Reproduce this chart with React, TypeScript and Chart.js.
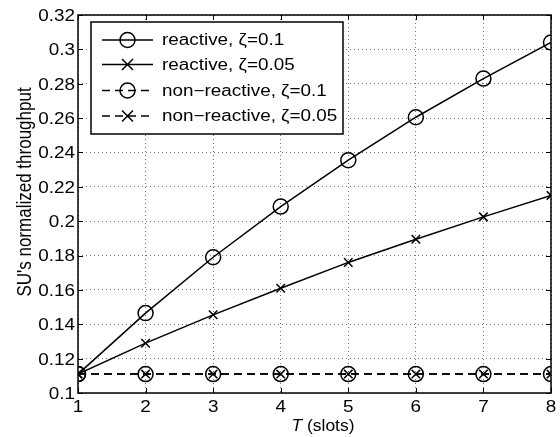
import React, { useEffect, useRef } from "react";
import { Chart, registerables } from "chart.js";

Chart.register(...registerables);

const T = [1, 2, 3, 4, 5, 6, 7, 8];
const reactive01 = [0.111, 0.1465, 0.179, 0.2085, 0.2355, 0.2605, 0.283, 0.304];
const reactive005 = [0.111, 0.129, 0.1455, 0.161, 0.176, 0.1895, 0.2025, 0.215];
const nonReactive01 = [0.111, 0.111, 0.111, 0.111, 0.111, 0.111, 0.111, 0.111];
const nonReactive005 = [0.111, 0.111, 0.111, 0.111, 0.111, 0.111, 0.111, 0.111];
const seriesLabels = [
  "reactive, ζ=0.1",
  "reactive, ζ=0.05",
  "non−reactive, ζ=0.1",
  "non−reactive, ζ=0.05",
];
const yTitle = "SU's normalized throughput";
const xTitleItalic = "T";
const xTitleRest = " (slots)";

const FONT = "'Liberation Sans', Arial, Helvetica, sans-serif";
const SX = 1.18;

function drawText(
  ctx: CanvasRenderingContext2D,
  text: string,
  x: number,
  y: number,
  size: number,
  sx: number,
  align: CanvasTextAlign,
  italic = false
) {
  ctx.save();
  ctx.translate(x, y);
  ctx.scale(sx, 1);
  ctx.font = `${italic ? "italic " : ""}${size}px ${FONT}`;
  ctx.fillStyle = "#000";
  ctx.textAlign = align;
  ctx.textBaseline = "middle";
  ctx.fillText(text, 0, 0);
  ctx.restore();
}

function drawMarker(ctx: CanvasRenderingContext2D, style: string, x: number, y: number) {
  ctx.save();
  ctx.setLineDash([]);
  ctx.lineWidth = 1.5;
  ctx.strokeStyle = "#000";
  ctx.beginPath();
  if (style === "circle") {
    ctx.arc(x, y, 7.5, 0, Math.PI * 2);
  } else {
    const r = 5.5;
    ctx.moveTo(x - r, y - r);
    ctx.lineTo(x + r, y + r);
    ctx.moveTo(x - r, y + r);
    ctx.lineTo(x + r, y - r);
  }
  ctx.stroke();
  ctx.restore();
}

const fmt = (v: number) => String(parseFloat(Number(v).toFixed(2)));

const framePlugin = {
  id: "frame",
  afterDraw(chart: any) {
    const { ctx, chartArea } = chart;
    const { left, right, top, bottom } = chartArea;
    const xs = chart.scales.x;
    const ys = chart.scales.y;
    ctx.save();
    ctx.strokeStyle = "#000";
    ctx.lineWidth = 1.5;
    ctx.setLineDash([]);
    ctx.strokeRect(left, top, right - left, bottom - top);
    ctx.lineWidth = 1;
    const tl = 5;
    ctx.beginPath();
    xs.ticks.forEach((t: any) => {
      const px = Math.round(xs.getPixelForValue(t.value)) + 0.5;
      ctx.moveTo(px, bottom);
      ctx.lineTo(px, bottom - tl);
      ctx.moveTo(px, top);
      ctx.lineTo(px, top + tl);
    });
    ys.ticks.forEach((t: any) => {
      const py = Math.round(ys.getPixelForValue(t.value)) + 0.5;
      ctx.moveTo(left, py);
      ctx.lineTo(left + tl, py);
      ctx.moveTo(right, py);
      ctx.lineTo(right - tl, py);
    });
    ctx.stroke();

    // tick labels
    xs.ticks.forEach((t: any) => {
      drawText(ctx, fmt(t.value), xs.getPixelForValue(t.value), 408, 16, SX, "center");
    });
    ys.ticks.forEach((t: any) => {
      drawText(ctx, fmt(t.value), 75, ys.getPixelForValue(t.value) + 1.5, 16, SX, "right");
    });

    // legend
    const lx = 91, ly = 22, lw = 252, lh = 112;
    ctx.fillStyle = "#fff";
    ctx.fillRect(lx, ly, lw, lh);
    ctx.lineWidth = 1.5;
    ctx.strokeStyle = "#000";
    ctx.strokeRect(lx, ly, lw, lh);
    const rows = [40, 64.5, 90.5, 116];
    chart.data.datasets.forEach((ds: any, i: number) => {
      const y = rows[i];
      ctx.save();
      ctx.lineWidth = 1.5;
      ctx.strokeStyle = "#000";
      ctx.setLineDash(ds.borderDash || []);
      ctx.beginPath();
      ctx.moveTo(102, y);
      ctx.lineTo(153, y);
      ctx.stroke();
      ctx.restore();
      drawMarker(ctx, ds.pointStyle === "circle" ? "circle" : "cross", 127.5, y);
      drawText(ctx, ds.label, 162, y + 1, 16, SX, "left");
    });

    // y title
    ctx.save();
    ctx.translate(25, 192);
    ctx.rotate(-Math.PI / 2);
    ctx.scale(1, SX);
    ctx.font = `17px ${FONT}`;
    ctx.fillStyle = "#000";
    ctx.textAlign = "center";
    ctx.textBaseline = "middle";
    ctx.fillText(yTitle, 0, 0);
    ctx.restore();

    // x title
    const xsx = 1.09;
    ctx.font = `italic 16px ${FONT}`;
    const w1 = ctx.measureText(xTitleItalic).width * xsx;
    ctx.font = `16px ${FONT}`;
    const w2 = ctx.measureText(xTitleRest).width * xsx;
    const sx0 = 323 - (w1 + w2) / 2;
    drawText(ctx, xTitleItalic, sx0, 427, 16, xsx, "left", true);
    drawText(ctx, xTitleRest, sx0 + w1, 427, 16, xsx, "left");
    ctx.restore();
  },
};

export default function App() {
  const ref = useRef<HTMLCanvasElement | null>(null);
  useEffect(() => {
    document.body.style.margin = "0";
    const canvas = ref.current!;
    const mk = (label: string, data: number[], style: string, dashed: boolean) => ({
      label,
      data: T.map((t, i) => ({ x: t, y: data[i] })),
      borderColor: "#000",
      backgroundColor: "rgba(0,0,0,0)",
      borderWidth: 1.5,
      borderDash: dashed ? [8, 5] : [],
      pointStyle: style,
      pointRadius: style === "circle" ? 7.5 : 6,
      pointBorderWidth: 1.5,
      pointBorderColor: "#000",
      pointBackgroundColor: "rgba(0,0,0,0)",
      tension: 0,
      fill: false,
    });
    const chart = new Chart(canvas, {
      type: "line",
      data: {
        datasets: [
          mk(seriesLabels[0], reactive01, "circle", false),
          mk(seriesLabels[1], reactive005, "crossRot", false),
          mk(seriesLabels[2], nonReactive01, "circle", true),
          mk(seriesLabels[3], nonReactive005, "crossRot", true),
        ],
      },
      options: {
        responsive: false,
        animation: false,
        events: [],
        layout: { padding: { left: 0, right: 7, top: 15, bottom: 0 } },
        plugins: { legend: { display: false }, tooltip: { enabled: false } },
        scales: {
          x: {
            type: "linear",
            min: 1,
            max: 8,
            ticks: { stepSize: 1, display: false },
            grid: { color: "rgba(0,0,0,0.55)", lineWidth: 1, drawTicks: false },
            border: { display: false, dash: [1, 3] },
            afterFit: (s: any) => {
              s.height = 44;
            },
          },
          y: {
            type: "linear",
            min: 0.1,
            max: 0.32,
            ticks: { stepSize: 0.02, display: false },
            grid: { color: "rgba(0,0,0,0.55)", lineWidth: 1, drawTicks: false },
            border: { display: false, dash: [1, 3] },
            afterFit: (s: any) => {
              s.width = 78;
            },
          },
        },
      },
      plugins: [framePlugin],
    } as any);
    return () => chart.destroy();
  }, []);
  return <canvas ref={ref} width={560} height={437} style={{ display: "block" }} />;
}
